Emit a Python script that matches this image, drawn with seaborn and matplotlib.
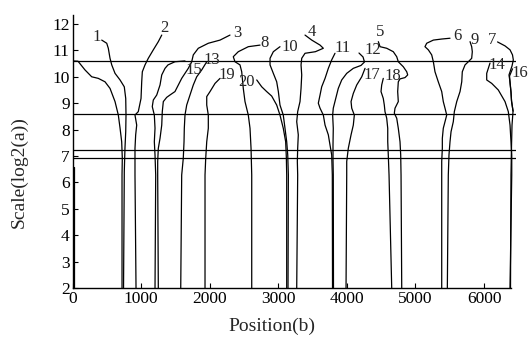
import matplotlib
matplotlib.use("Agg")
import matplotlib.pyplot as plt
import pandas as pd
import seaborn as sns

# ---- modulus-maxima lines: position (b) and scale log2(a) ----
edge_pos = [15, 15]
edge_scale = [2.0, 6.6]

lineA_pos = [0, 80, 182, 280, 376, 474, 547, 620, 668, 693, 717, 726, 722, 722]
lineA_scale = [10.60, 10.59, 10.26, 10.00, 9.94, 9.81, 9.56, 9.06, 8.55, 8.06, 7.54, 6.92, 6.28, 2.0]

line1_pos = [426, 499, 522, 547, 572, 620, 693, 755, 776, 780, 776, 765, 755, 744]
line1_scale = [11.39, 11.27, 11.08, 10.70, 10.45, 10.13, 9.88, 9.62, 9.18, 8.55, 7.92, 7.30, 6.41, 2.0]

line2_pos = [1301, 1251, 1178, 1105, 1057, 1018, 1009, 999, 959, 911, 936, 921, 911, 911, 926]
line2_scale = [11.58, 11.33, 11.02, 10.70, 10.45, 10.19, 9.81, 9.18, 8.68, 8.55, 8.17, 7.80, 7.29, 6.28, 2.0]

line3_pos = [2296, 2151, 1980, 1834, 1761, 1738, 1688, 1592, 1543, 1494, 1421, 1373, 1324,
             1309, 1301, 1276, 1251, 1242, 1242, 1251]
line3_scale = [11.58, 11.39, 11.27, 11.08, 10.83, 10.57, 10.32, 9.94, 9.69, 9.44, 9.31, 9.22, 9.06,
               8.68, 8.17, 7.67, 7.29, 6.79, 6.28, 2.0]

line4_pos = [3390, 3488, 3609, 3657, 3541, 3390, 3342, 3332, 3342, 3332, 3317, 3283, 3269,
             3292, 3283, 3278, 3283, 3269]
line4_scale = [11.58, 11.39, 11.20, 11.08, 10.95, 10.89, 10.70, 10.45, 10.07, 9.56, 9.06, 8.68, 8.30,
               7.80, 7.29, 6.79, 6.28, 2.0]

line5_pos = [4459, 4484, 4581, 4677, 4727, 4750, 4823, 4873, 4887, 4848, 4775, 4750, 4741, 4750,
             4702, 4692, 4727, 4750, 4775, 4785, 4790, 4800]
line5_scale = [11.33, 11.14, 11.08, 10.95, 10.76, 10.57, 10.38, 10.19, 10.07, 9.97, 9.92, 9.81, 9.44, 9.06,
               8.81, 8.62, 8.43, 8.05, 7.54, 7.04, 6.28, 2.0]

line6_pos = [5504, 5383, 5261, 5164, 5139, 5188, 5237, 5261, 5285, 5333, 5383, 5406, 5431, 5456,
             5431, 5406, 5392, 5392, 5383, 5383, 5383]
line6_scale = [11.46, 11.43, 11.39, 11.27, 11.14, 11.02, 10.83, 10.57, 10.19, 9.81, 9.44, 9.06, 8.81, 8.55,
               8.30, 8.05, 7.67, 7.29, 6.79, 6.28, 2.0]

line7_pos = [6197, 6306, 6379, 6415, 6427, 6408, 6364, 6379, 6393, 6401, 6423, 6408, 6401, 6393, 6386]
line7_scale = [11.32, 11.17, 11.02, 10.83, 10.64, 10.41, 10.07, 9.80, 9.42, 9.08, 8.70, 8.17, 7.42, 6.28, 2.0]

line8_pos = [2734, 2563, 2417, 2344, 2369, 2442, 2467, 2490, 2515, 2563, 2588, 2603, 2613, 2613]
line8_scale = [11.20, 11.14, 10.95, 10.76, 10.57, 10.45, 10.19, 9.56, 9.06, 8.55, 8.05, 7.29, 6.28, 2.0]

line9_pos = [5796, 5820, 5829, 5820, 5771, 5723, 5683, 5675, 5650, 5602, 5567, 5552, 5519, 5504,
             5489, 5479, 5465]
line9_scale = [11.33, 11.14, 10.95, 10.70, 10.57, 10.45, 10.19, 9.81, 9.44, 9.06, 8.68, 8.30, 7.92, 7.54,
               7.04, 6.28, 2.0]

line10_pos = [3025, 2928, 2880, 2880, 2928, 2977, 3001, 3025, 3073, 3098, 3123, 3138, 3147, 3142]
line10_scale = [11.14, 10.95, 10.70, 10.45, 10.13, 9.81, 9.44, 8.93, 8.55, 8.05, 7.54, 7.04, 6.28, 2.0]

line11_pos = [3827, 3779, 3730, 3682, 3633, 3609, 3584, 3609, 3657, 3682, 3730, 3754, 3779, 3788, 3791]
line11_scale = [10.89, 10.64, 10.32, 9.94, 9.62, 9.31, 9.00, 8.81, 8.55, 8.17, 7.80, 7.42, 7.04, 6.28, 2.0]

line12_pos = [4177, 4236, 4257, 4206, 4094, 3998, 3925, 3875, 3838, 3802, 3793, 3802, 3798, 3798, 3802, 3805]
line12_scale = [10.90, 10.75, 10.56, 10.43, 10.32, 10.13, 9.88, 9.56, 9.18, 8.81, 8.55, 8.05, 7.42, 6.85, 6.28, 2.0]

line13_pos = [1957, 1884, 1811, 1761, 1713, 1665, 1640, 1630, 1626, 1615, 1592, 1578]
line13_scale = [10.57, 10.26, 10.00, 9.69, 9.31, 8.93, 8.55, 8.05, 7.54, 6.91, 6.28, 2.0]

line14_pos = [6087, 6039, 6039, 6112, 6208, 6306, 6354, 6379, 6393, 6404, 6404, 6379]
line14_scale = [10.52, 10.13, 9.88, 9.75, 9.50, 9.06, 8.68, 8.17, 7.54, 7.04, 6.28, 2.0]

line15_pos = [1640, 1494, 1392, 1349, 1301, 1276, 1228, 1178, 1163, 1193, 1203, 1193, 1203, 1213, 1203]
line15_scale = [10.60, 10.57, 10.45, 10.32, 10.07, 9.69, 9.31, 9.12, 8.87, 8.55, 8.05, 7.54, 7.04, 6.28, 2.0]

line16_pos = [6415, 6372, 6379, 6393, 6401, 6423]
line16_scale = [10.30, 10.03, 9.77, 9.42, 9.08, 8.70]

line17_pos = [4265, 4217, 4144, 4094, 4061, 4071, 4109, 4094, 4061, 4021, 3998, 3998, 3988]
line17_scale = [10.32, 10.00, 9.69, 9.37, 9.06, 8.81, 8.55, 8.17, 7.80, 7.29, 6.79, 6.28, 2.0]

line18_pos = [4531, 4508, 4498, 4531, 4546, 4556, 4581, 4596, 4596, 4604, 4615, 4654]
line18_scale = [9.94, 9.69, 9.44, 9.18, 8.93, 8.68, 8.43, 8.05, 7.54, 7.04, 6.28, 2.0]

line19_pos = [2151, 2078, 2005, 1957, 1957, 1980, 1980, 1957, 1942, 1932, 1932]
line19_scale = [9.94, 9.75, 9.44, 9.25, 8.93, 8.55, 8.05, 7.54, 6.91, 6.28, 2.0]

line20_pos = [2686, 2759, 2831, 2904, 2977, 3025, 3073, 3108, 3118, 3123, 3123]
line20_scale = [9.88, 9.62, 9.44, 9.27, 8.93, 8.55, 8.05, 7.54, 6.92, 6.28, 2.0]

# horizontal reference scales
hline_scales = [10.61, 8.58, 7.23, 6.91]

# tick labels
x_ticks = [0, 1000, 2000, 3000, 4000, 5000, 6000]
y_ticks = [2, 3, 4, 5, 6, 7, 8, 9, 10, 11, 12]

numbered = {
    "1": (line1_pos, line1_scale), "2": (line2_pos, line2_scale), "3": (line3_pos, line3_scale),
    "4": (line4_pos, line4_scale), "5": (line5_pos, line5_scale), "6": (line6_pos, line6_scale),
    "7": (line7_pos, line7_scale), "8": (line8_pos, line8_scale), "9": (line9_pos, line9_scale),
    "10": (line10_pos, line10_scale), "11": (line11_pos, line11_scale), "12": (line12_pos, line12_scale),
    "13": (line13_pos, line13_scale), "14": (line14_pos, line14_scale), "15": (line15_pos, line15_scale),
    "16": (line16_pos, line16_scale), "17": (line17_pos, line17_scale), "18": (line18_pos, line18_scale),
    "19": (line19_pos, line19_scale), "20": (line20_pos, line20_scale),
}
# label offsets (pixels, right / down) from each line's top end
label_offset = {
    "1": (-5, -3), "2": (3, -7), "3": (7, -2), "4": (7, -3), "5": (2, -10), "6": (7, -2),
    "7": (-5, -2), "8": (5, -2), "9": (5, -2), "10": (10, 0), "11": (8, -5), "12": (14, -3),
    "13": (5, -2), "14": (7, 2), "15": (9, 9), "16": (7, 4), "17": (7, 7), "18": (10, -2),
    "19": (7, -3), "20": (-10, 2),
}

rows = []
for name, (xs, ys) in list(numbered.items()) + [("edge", (edge_pos, edge_scale)),
                                                 ("a", (lineA_pos, lineA_scale))]:
    for i, (x, y) in enumerate(zip(xs, ys)):
        rows.append({"line": name, "order": i, "position": x, "scale": y})
df = pd.DataFrame(rows)

sns.set_style("ticks")
plt.rcParams["font.family"] = ["Liberation Serif", "DejaVu Serif"]
plt.rcParams["mathtext.fontset"] = "stix"

fig = plt.figure(figsize=(5.30, 3.41), dpi=100)
ax = fig.add_axes([0.1368, 0.1554, 0.8360, 0.8006])

sns.lineplot(data=df, x="position", y="scale", units="line", estimator=None, sort=False,
             color="black", linewidth=0.9, ax=ax, legend=False)

for s in hline_scales:
    ax.axhline(s, color="black", linewidth=0.9)

for name, (xs, ys) in numbered.items():
    dx, dy = label_offset[name]
    ax.annotate(name, xy=(xs[0], ys[0]), xytext=(dx, -dy), textcoords="offset pixels",
                ha="center", va="center", fontsize=12, annotation_clip=False)

ax.set_xlim(0, 6460)
ax.set_ylim(2, 12.34)
ax.set_xticks(x_ticks)
ax.set_yticks(y_ticks)
ax.tick_params(direction="in", length=3.5, width=0.8, labelsize=12.5, colors="black", pad=2)
for side in ["top", "right"]:
    ax.spines[side].set_visible(False)
for side in ["left", "bottom"]:
    ax.spines[side].set_color("black")
    ax.spines[side].set_linewidth(1.0)
ax.spines["bottom"].set_bounds(0, 6400)

ax.set_xlabel("Position(b)", fontsize=14)
ax.set_ylabel("Scale(log2(a))", fontsize=14)
ax.xaxis.set_label_coords(0.449, -0.11)
ax.yaxis.set_label_coords(-0.10, 0.425)

fig.savefig("out.png", dpi=100)
